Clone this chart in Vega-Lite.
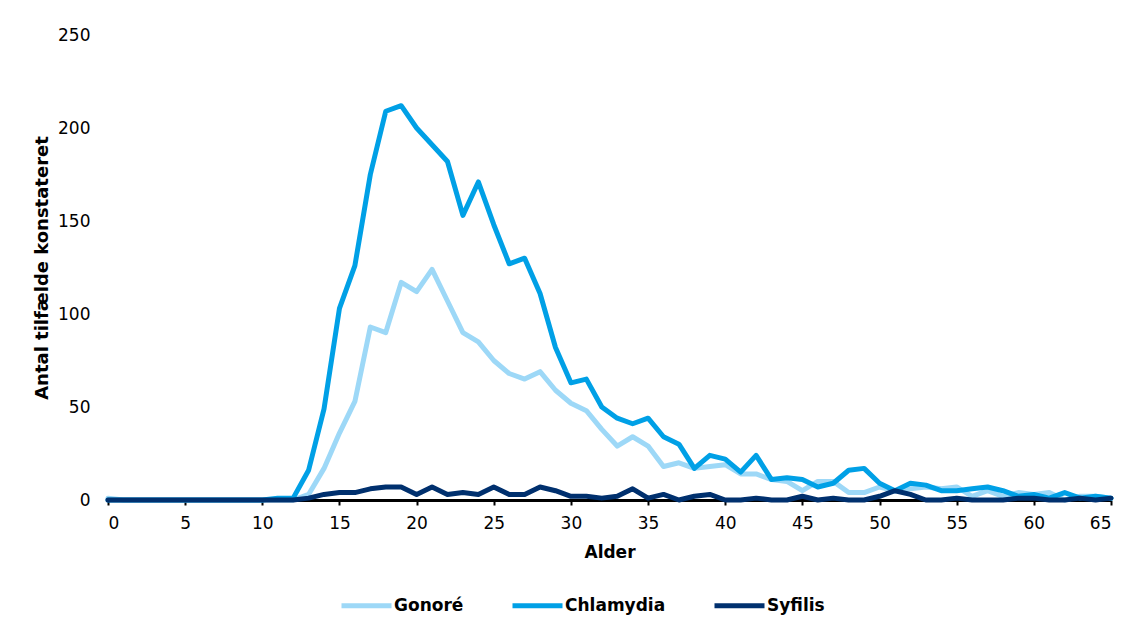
{
  "$schema": "https://vega.github.io/schema/vega-lite/v6.json",
  "autosize": {"type": "none"},
  "padding": {"left": 108, "top": 35, "right": 17, "bottom": 119},
  "width": 1003,
  "height": 465,
  "background": "white",
  "config": {"view": {"stroke": null}, "font": "DejaVu Sans"},
  "data": {"values": [
    {"Alder":0,"Sygdom":"Gonoré","Antal":1},{"Alder":1,"Sygdom":"Gonoré","Antal":0},{"Alder":2,"Sygdom":"Gonoré","Antal":0},{"Alder":3,"Sygdom":"Gonoré","Antal":0},{"Alder":4,"Sygdom":"Gonoré","Antal":0},{"Alder":5,"Sygdom":"Gonoré","Antal":0},{"Alder":6,"Sygdom":"Gonoré","Antal":0},{"Alder":7,"Sygdom":"Gonoré","Antal":0},{"Alder":8,"Sygdom":"Gonoré","Antal":0},{"Alder":9,"Sygdom":"Gonoré","Antal":0},{"Alder":10,"Sygdom":"Gonoré","Antal":0},{"Alder":11,"Sygdom":"Gonoré","Antal":0},{"Alder":12,"Sygdom":"Gonoré","Antal":0},{"Alder":13,"Sygdom":"Gonoré","Antal":3},{"Alder":14,"Sygdom":"Gonoré","Antal":17},{"Alder":15,"Sygdom":"Gonoré","Antal":36},{"Alder":16,"Sygdom":"Gonoré","Antal":53},{"Alder":17,"Sygdom":"Gonoré","Antal":93},{"Alder":18,"Sygdom":"Gonoré","Antal":90},{"Alder":19,"Sygdom":"Gonoré","Antal":117},{"Alder":20,"Sygdom":"Gonoré","Antal":112},{"Alder":21,"Sygdom":"Gonoré","Antal":124},{"Alder":22,"Sygdom":"Gonoré","Antal":107},{"Alder":23,"Sygdom":"Gonoré","Antal":90},{"Alder":24,"Sygdom":"Gonoré","Antal":85},{"Alder":25,"Sygdom":"Gonoré","Antal":75},{"Alder":26,"Sygdom":"Gonoré","Antal":68},{"Alder":27,"Sygdom":"Gonoré","Antal":65},{"Alder":28,"Sygdom":"Gonoré","Antal":69},{"Alder":29,"Sygdom":"Gonoré","Antal":59},{"Alder":30,"Sygdom":"Gonoré","Antal":52},{"Alder":31,"Sygdom":"Gonoré","Antal":48},{"Alder":32,"Sygdom":"Gonoré","Antal":38},{"Alder":33,"Sygdom":"Gonoré","Antal":29},{"Alder":34,"Sygdom":"Gonoré","Antal":34},{"Alder":35,"Sygdom":"Gonoré","Antal":29},{"Alder":36,"Sygdom":"Gonoré","Antal":18},{"Alder":37,"Sygdom":"Gonoré","Antal":20},{"Alder":38,"Sygdom":"Gonoré","Antal":17},{"Alder":39,"Sygdom":"Gonoré","Antal":18},{"Alder":40,"Sygdom":"Gonoré","Antal":19},{"Alder":41,"Sygdom":"Gonoré","Antal":14},{"Alder":42,"Sygdom":"Gonoré","Antal":14},{"Alder":43,"Sygdom":"Gonoré","Antal":11},{"Alder":44,"Sygdom":"Gonoré","Antal":10},{"Alder":45,"Sygdom":"Gonoré","Antal":5},{"Alder":46,"Sygdom":"Gonoré","Antal":10},{"Alder":47,"Sygdom":"Gonoré","Antal":10},{"Alder":48,"Sygdom":"Gonoré","Antal":4},{"Alder":49,"Sygdom":"Gonoré","Antal":4},{"Alder":50,"Sygdom":"Gonoré","Antal":7},{"Alder":51,"Sygdom":"Gonoré","Antal":5},{"Alder":52,"Sygdom":"Gonoré","Antal":6},{"Alder":53,"Sygdom":"Gonoré","Antal":7},{"Alder":54,"Sygdom":"Gonoré","Antal":6},{"Alder":55,"Sygdom":"Gonoré","Antal":7},{"Alder":56,"Sygdom":"Gonoré","Antal":2},{"Alder":57,"Sygdom":"Gonoré","Antal":5},{"Alder":58,"Sygdom":"Gonoré","Antal":2},{"Alder":59,"Sygdom":"Gonoré","Antal":4},{"Alder":60,"Sygdom":"Gonoré","Antal":3},{"Alder":61,"Sygdom":"Gonoré","Antal":4},{"Alder":62,"Sygdom":"Gonoré","Antal":0},{"Alder":63,"Sygdom":"Gonoré","Antal":2},{"Alder":64,"Sygdom":"Gonoré","Antal":2},{"Alder":65,"Sygdom":"Gonoré","Antal":1},
    {"Alder":0,"Sygdom":"Chlamydia","Antal":0},{"Alder":1,"Sygdom":"Chlamydia","Antal":0},{"Alder":2,"Sygdom":"Chlamydia","Antal":0},{"Alder":3,"Sygdom":"Chlamydia","Antal":0},{"Alder":4,"Sygdom":"Chlamydia","Antal":0},{"Alder":5,"Sygdom":"Chlamydia","Antal":0},{"Alder":6,"Sygdom":"Chlamydia","Antal":0},{"Alder":7,"Sygdom":"Chlamydia","Antal":0},{"Alder":8,"Sygdom":"Chlamydia","Antal":0},{"Alder":9,"Sygdom":"Chlamydia","Antal":0},{"Alder":10,"Sygdom":"Chlamydia","Antal":0},{"Alder":11,"Sygdom":"Chlamydia","Antal":1},{"Alder":12,"Sygdom":"Chlamydia","Antal":1},{"Alder":13,"Sygdom":"Chlamydia","Antal":16},{"Alder":14,"Sygdom":"Chlamydia","Antal":49},{"Alder":15,"Sygdom":"Chlamydia","Antal":103},{"Alder":16,"Sygdom":"Chlamydia","Antal":126},{"Alder":17,"Sygdom":"Chlamydia","Antal":175},{"Alder":18,"Sygdom":"Chlamydia","Antal":209},{"Alder":19,"Sygdom":"Chlamydia","Antal":212},{"Alder":20,"Sygdom":"Chlamydia","Antal":200},{"Alder":21,"Sygdom":"Chlamydia","Antal":191},{"Alder":22,"Sygdom":"Chlamydia","Antal":182},{"Alder":23,"Sygdom":"Chlamydia","Antal":153},{"Alder":24,"Sygdom":"Chlamydia","Antal":171},{"Alder":25,"Sygdom":"Chlamydia","Antal":148},{"Alder":26,"Sygdom":"Chlamydia","Antal":127},{"Alder":27,"Sygdom":"Chlamydia","Antal":130},{"Alder":28,"Sygdom":"Chlamydia","Antal":111},{"Alder":29,"Sygdom":"Chlamydia","Antal":82},{"Alder":30,"Sygdom":"Chlamydia","Antal":63},{"Alder":31,"Sygdom":"Chlamydia","Antal":65},{"Alder":32,"Sygdom":"Chlamydia","Antal":50},{"Alder":33,"Sygdom":"Chlamydia","Antal":44},{"Alder":34,"Sygdom":"Chlamydia","Antal":41},{"Alder":35,"Sygdom":"Chlamydia","Antal":44},{"Alder":36,"Sygdom":"Chlamydia","Antal":34},{"Alder":37,"Sygdom":"Chlamydia","Antal":30},{"Alder":38,"Sygdom":"Chlamydia","Antal":17},{"Alder":39,"Sygdom":"Chlamydia","Antal":24},{"Alder":40,"Sygdom":"Chlamydia","Antal":22},{"Alder":41,"Sygdom":"Chlamydia","Antal":15},{"Alder":42,"Sygdom":"Chlamydia","Antal":24},{"Alder":43,"Sygdom":"Chlamydia","Antal":11},{"Alder":44,"Sygdom":"Chlamydia","Antal":12},{"Alder":45,"Sygdom":"Chlamydia","Antal":11},{"Alder":46,"Sygdom":"Chlamydia","Antal":7},{"Alder":47,"Sygdom":"Chlamydia","Antal":9},{"Alder":48,"Sygdom":"Chlamydia","Antal":16},{"Alder":49,"Sygdom":"Chlamydia","Antal":17},{"Alder":50,"Sygdom":"Chlamydia","Antal":9},{"Alder":51,"Sygdom":"Chlamydia","Antal":5},{"Alder":52,"Sygdom":"Chlamydia","Antal":9},{"Alder":53,"Sygdom":"Chlamydia","Antal":8},{"Alder":54,"Sygdom":"Chlamydia","Antal":5},{"Alder":55,"Sygdom":"Chlamydia","Antal":5},{"Alder":56,"Sygdom":"Chlamydia","Antal":6},{"Alder":57,"Sygdom":"Chlamydia","Antal":7},{"Alder":58,"Sygdom":"Chlamydia","Antal":5},{"Alder":59,"Sygdom":"Chlamydia","Antal":2},{"Alder":60,"Sygdom":"Chlamydia","Antal":3},{"Alder":61,"Sygdom":"Chlamydia","Antal":1},{"Alder":62,"Sygdom":"Chlamydia","Antal":4},{"Alder":63,"Sygdom":"Chlamydia","Antal":1},{"Alder":64,"Sygdom":"Chlamydia","Antal":2},{"Alder":65,"Sygdom":"Chlamydia","Antal":1},
    {"Alder":0,"Sygdom":"Syfilis","Antal":0},{"Alder":1,"Sygdom":"Syfilis","Antal":0},{"Alder":2,"Sygdom":"Syfilis","Antal":0},{"Alder":3,"Sygdom":"Syfilis","Antal":0},{"Alder":4,"Sygdom":"Syfilis","Antal":0},{"Alder":5,"Sygdom":"Syfilis","Antal":0},{"Alder":6,"Sygdom":"Syfilis","Antal":0},{"Alder":7,"Sygdom":"Syfilis","Antal":0},{"Alder":8,"Sygdom":"Syfilis","Antal":0},{"Alder":9,"Sygdom":"Syfilis","Antal":0},{"Alder":10,"Sygdom":"Syfilis","Antal":0},{"Alder":11,"Sygdom":"Syfilis","Antal":0},{"Alder":12,"Sygdom":"Syfilis","Antal":0},{"Alder":13,"Sygdom":"Syfilis","Antal":1},{"Alder":14,"Sygdom":"Syfilis","Antal":3},{"Alder":15,"Sygdom":"Syfilis","Antal":4},{"Alder":16,"Sygdom":"Syfilis","Antal":4},{"Alder":17,"Sygdom":"Syfilis","Antal":6},{"Alder":18,"Sygdom":"Syfilis","Antal":7},{"Alder":19,"Sygdom":"Syfilis","Antal":7},{"Alder":20,"Sygdom":"Syfilis","Antal":3},{"Alder":21,"Sygdom":"Syfilis","Antal":7},{"Alder":22,"Sygdom":"Syfilis","Antal":3},{"Alder":23,"Sygdom":"Syfilis","Antal":4},{"Alder":24,"Sygdom":"Syfilis","Antal":3},{"Alder":25,"Sygdom":"Syfilis","Antal":7},{"Alder":26,"Sygdom":"Syfilis","Antal":3},{"Alder":27,"Sygdom":"Syfilis","Antal":3},{"Alder":28,"Sygdom":"Syfilis","Antal":7},{"Alder":29,"Sygdom":"Syfilis","Antal":5},{"Alder":30,"Sygdom":"Syfilis","Antal":2},{"Alder":31,"Sygdom":"Syfilis","Antal":2},{"Alder":32,"Sygdom":"Syfilis","Antal":1},{"Alder":33,"Sygdom":"Syfilis","Antal":2},{"Alder":34,"Sygdom":"Syfilis","Antal":6},{"Alder":35,"Sygdom":"Syfilis","Antal":1},{"Alder":36,"Sygdom":"Syfilis","Antal":3},{"Alder":37,"Sygdom":"Syfilis","Antal":0},{"Alder":38,"Sygdom":"Syfilis","Antal":2},{"Alder":39,"Sygdom":"Syfilis","Antal":3},{"Alder":40,"Sygdom":"Syfilis","Antal":0},{"Alder":41,"Sygdom":"Syfilis","Antal":0},{"Alder":42,"Sygdom":"Syfilis","Antal":1},{"Alder":43,"Sygdom":"Syfilis","Antal":0},{"Alder":44,"Sygdom":"Syfilis","Antal":0},{"Alder":45,"Sygdom":"Syfilis","Antal":2},{"Alder":46,"Sygdom":"Syfilis","Antal":0},{"Alder":47,"Sygdom":"Syfilis","Antal":1},{"Alder":48,"Sygdom":"Syfilis","Antal":0},{"Alder":49,"Sygdom":"Syfilis","Antal":0},{"Alder":50,"Sygdom":"Syfilis","Antal":2},{"Alder":51,"Sygdom":"Syfilis","Antal":5},{"Alder":52,"Sygdom":"Syfilis","Antal":3},{"Alder":53,"Sygdom":"Syfilis","Antal":0},{"Alder":54,"Sygdom":"Syfilis","Antal":0},{"Alder":55,"Sygdom":"Syfilis","Antal":1},{"Alder":56,"Sygdom":"Syfilis","Antal":0},{"Alder":57,"Sygdom":"Syfilis","Antal":0},{"Alder":58,"Sygdom":"Syfilis","Antal":0},{"Alder":59,"Sygdom":"Syfilis","Antal":1},{"Alder":60,"Sygdom":"Syfilis","Antal":1},{"Alder":61,"Sygdom":"Syfilis","Antal":0},{"Alder":62,"Sygdom":"Syfilis","Antal":0},{"Alder":63,"Sygdom":"Syfilis","Antal":1},{"Alder":64,"Sygdom":"Syfilis","Antal":0},{"Alder":65,"Sygdom":"Syfilis","Antal":1}
  ]},
  "mark": {"type": "line", "strokeJoin": "round", "strokeCap": "round"},
  "encoding": {
    "x": {
      "field": "Alder", "type": "quantitative",
      "scale": {"domain": [0, 65], "nice": false, "zero": false},
      "axis": {
        "title": "Alder", "values": [0,5,10,15,20,25,30,35,40,45,50,55,60,65],
        "grid": false, "domainColor": "black", "domainWidth": 3,
        "tickColor": "black", "tickWidth": 2, "tickSize": 5,
        "labelFontSize": 17, "labelColor": "black", "labelPadding": 10,
        "titleFontSize": 17, "titleFontWeight": "bold", "titleColor": "black",
        "titleY": 44, "titleBaseline": "top"
      }
    },
    "y": {
      "field": "Antal", "type": "quantitative",
      "scale": {"domain": [0, 250], "nice": false},
      "axis": {
        "title": "Antal tilfælde konstateret", "values": [0,50,100,150,200,250],
        "grid": false, "domain": false, "ticks": false,
        "labelFontSize": 17, "labelColor": "black", "labelPadding": 18,
        "titleFontSize": 18, "titleFontWeight": "bold", "titleColor": "black",
        "titleX": -66, "titleBaseline": "middle"
      }
    },
    "color": {
      "field": "Sygdom", "type": "nominal",
      "scale": {"domain": ["Gonoré", "Chlamydia", "Syfilis"], "range": ["#9DD8F7", "#00A0E6", "#00306E"]},
      "legend": {
        "title": null, "orient": "none", "direction": "horizontal",
        "legendX": 231, "legendY": 543, "padding": 0,
        "symbolType": "stroke", "symbolSize": 2500,
        "labelFontSize": 17, "labelFontWeight": "bold", "labelColor": "black",
        "labelOffset": 0, "columnPadding": 38
      }
    },
    "strokeWidth": {
      "field": "Sygdom", "type": "nominal",
      "scale": {"domain": ["Gonoré", "Chlamydia", "Syfilis"], "range": [5, 5, 3.5]},
      "legend": null
    }
  }
}
